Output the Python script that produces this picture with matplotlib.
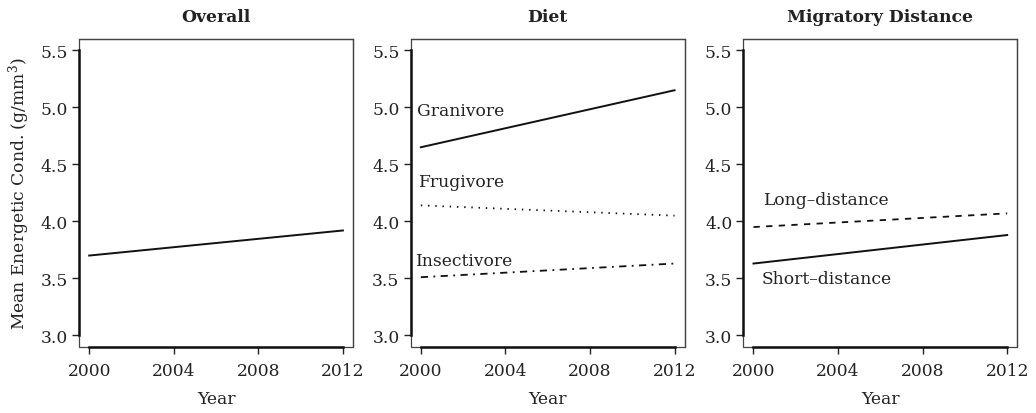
import matplotlib.pyplot as plt
from matplotlib.patches import Rectangle

plt.rcParams['font.family'] = ['DejaVu Serif']
plt.rcParams['mathtext.fontset'] = 'dejavuserif'

years = [2000, 2012]
overall = [3.70, 3.92]

granivore = [4.65, 5.15]
frugivore = [4.14, 4.05]
insectivore = [3.51, 3.63]

long_dist = [3.95, 4.07]
short_dist = [3.63, 3.88]

titles = ['Overall', 'Diet', 'Migratory Distance']
xticks = [2000, 2004, 2008, 2012]
yticks = [3.0, 3.5, 4.0, 4.5, 5.0, 5.5]

fs = 12.3
fig = plt.figure(figsize=(10.36, 4.14), dpi=100)
lefts = [0.0763, 0.3964, 0.7175]
axes = [fig.add_axes([l, 0.160, 0.2645, 0.7435]) for l in lefts]

for ax, t in zip(axes, titles):
    ax.set_xlim(1999.52, 2012.48)
    ax.set_ylim(2.9, 5.6)
    ax.set_xticks(xticks)
    ax.set_yticks(yticks)
    ax.set_yticklabels(['%.1f' % v for v in yticks])
    ax.tick_params(direction='out', length=5, width=1, labelsize=fs, color='#222222',
                   labelcolor='#222222')
    ax.tick_params(axis='y', pad=3)
    ax.tick_params(axis='x', pad=6)
    for s in ['top', 'right']:
        ax.spines[s].set_linewidth(0.9)
        ax.spines[s].set_color('#444444')
    ax.spines['left'].set_bounds(3.0, 5.5)
    ax.spines['bottom'].set_bounds(2000, 2012)
    for s in ['left', 'bottom']:
        ax.spines[s].set_linewidth(1.8)
        ax.spines[s].set_color('#111111')
    ax.add_patch(Rectangle((0, 0), 1, 1, transform=ax.transAxes, fill=False,
                           lw=0.9, ec='#444444', clip_on=False))
    ax.set_title(t, fontsize=fs, fontweight='bold', pad=13, color='#222222')
    ax.set_xlabel('Year', fontsize=fs, labelpad=8, color='#222222')

axes[0].set_ylabel('Mean Energetic Cond. (g/mm$^3$)', fontsize=fs, labelpad=6,
                   color='#222222')

lc = '#111111'
tc = '#222222'
axes[0].plot(years, overall, color=lc, lw=1.4)

axes[1].plot(years, granivore, color=lc, lw=1.4)
axes[1].plot(years, frugivore, color=lc, lw=1.3, linestyle=(0, (0.8, 3.2)))
axes[1].plot(years, insectivore, color=lc, lw=1.3, linestyle=(0, (4, 3, 1, 3)))
axes[1].text(1999.8, 4.97, 'Granivore', fontsize=fs, va='center', color=tc)
axes[1].text(1999.85, 4.35, 'Frugivore', fontsize=fs, va='center', color=tc)
axes[1].text(1999.75, 3.66, 'Insectivore', fontsize=fs, va='center', color=tc)

axes[2].plot(years, long_dist, color=lc, lw=1.3, linestyle=(0, (3.5, 3.5)))
axes[2].plot(years, short_dist, color=lc, lw=1.4)
axes[2].text(2000.45, 4.19, 'Long\u2013distance', fontsize=fs, va='center', color=tc)
axes[2].text(2000.4, 3.50, 'Short\u2013distance', fontsize=fs, va='center', color=tc)

fig.savefig('out.png', dpi=100)
